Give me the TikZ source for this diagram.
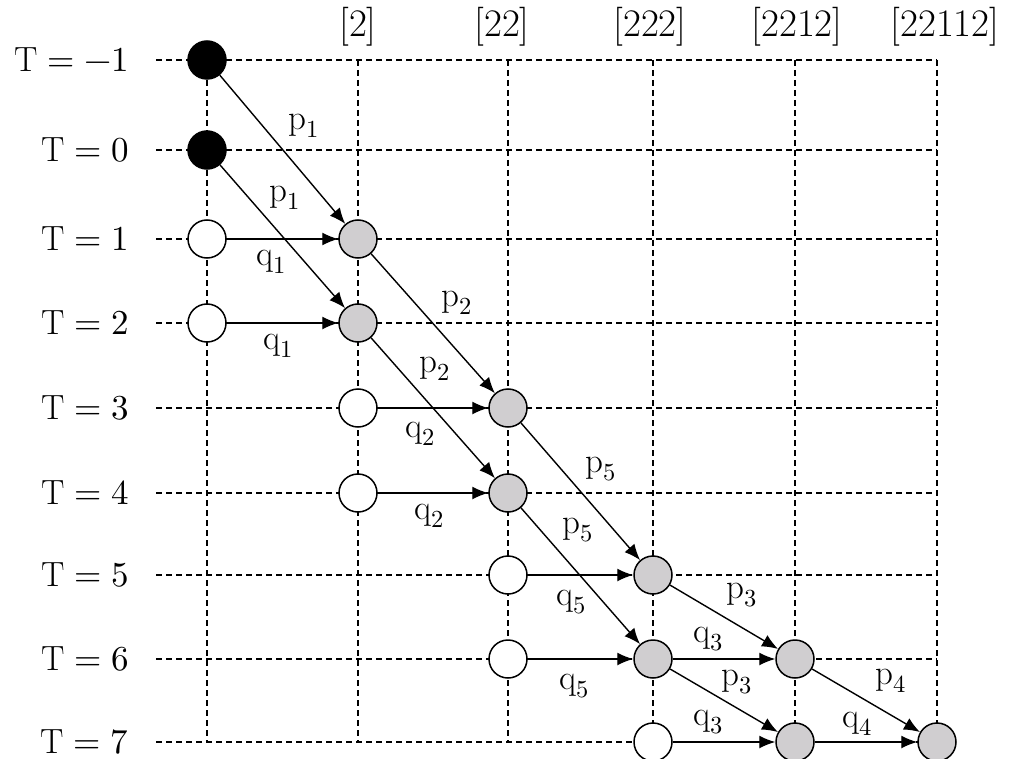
\documentclass[tikz,border=0pt]{standalone}
\usepackage{unicode-math}
\usetikzlibrary{arrows.meta}
\definecolor{nodegrey}{RGB}{208,206,208}
\begin{document}
\begin{tikzpicture}[x=1pt,y=-1pt,
  gridline/.style={line width=1.2pt, dash pattern=on 6pt off 4pt},
  st/.style={circle, draw, line width=1.5pt, minimum size=38pt, inner sep=0pt},
  blk/.style={st, fill=black},
  wht/.style={st, fill=white},
  gry/.style={st, fill=nodegrey},
  arr/.style={line width=1.4pt, -{Latex[length=16pt,width=13pt]}},
  lbl/.style={font=\fontsize{35}{40}\selectfont, inner sep=0pt},
  toplbl/.style={font=\fontsize{39}{44}\selectfont, inner sep=0pt},
]
\useasboundingbox (0,0) rectangle (1011,759);
% grid
\foreach \y in {60,150,239,323,408,493,575,659,742}
  \draw[gridline] (156,\y) -- (937,\y);
\foreach \x in {207,358,508,653,795,937}
  \draw[gridline] (\x,60) -- (\x,742);
% row labels
\node[lbl, anchor=east] (tm1) at (129,60) {$\mathrm{T} = -1$};
\node[lbl, anchor=east] (t0) at (129,150) {$\mathrm{T} = 0$};
\node[lbl, anchor=east] (t1) at (129,239) {$\mathrm{T} = 1$};
\node[lbl, anchor=east] (t2) at (129,323) {$\mathrm{T} = 2$};
\node[lbl, anchor=east] (t3) at (129,408) {$\mathrm{T} = 3$};
\node[lbl, anchor=east] (t4) at (129,493) {$\mathrm{T} = 4$};
\node[lbl, anchor=east] (t5) at (129,575) {$\mathrm{T} = 5$};
\node[lbl, anchor=east] (t6) at (129,659) {$\mathrm{T} = 6$};
\node[lbl, anchor=east] (t7) at (129,742) {$\mathrm{T} = 7$};
% column labels
\node[toplbl] (c1) at (358,27) {[2]};
\node[toplbl] (c2) at (502,27) {[22]};
\node[toplbl] (c3) at (650,27) {[222]};
\node[toplbl] (c4) at (797,27) {[2212]};
\node[toplbl] (c5) at (945,27) {[22112]};
% nodes
\node[blk] (b1) at (207,60) {};
\node[blk] (b2) at (207,150) {};
\node[wht] (w1) at (207,239) {};
\node[wht] (w2) at (207,323) {};
\node[wht] (w3) at (358,408) {};
\node[wht] (w4) at (358,493) {};
\node[wht] (w5) at (508,575) {};
\node[wht] (w6) at (508,659) {};
\node[wht] (w7) at (653,742) {};
\node[gry] (g1) at (358,239) {};
\node[gry] (g2) at (358,323) {};
\node[gry] (g3) at (508,408) {};
\node[gry] (g4) at (508,493) {};
\node[gry] (g5) at (653,575) {};
\node[gry] (g6) at (653,659) {};
\node[gry] (g7) at (795,659) {};
\node[gry] (g8) at (795,742) {};
\node[gry] (g9) at (937,742) {};
% arrows
\draw[arr] (b1) -- (g1);
\draw[arr] (b2) -- (g2);
\draw[arr] (w1) -- (g1);
\draw[arr] (w2) -- (g2);
\draw[arr] (g1) -- (g3);
\draw[arr] (g2) -- (g4);
\draw[arr] (w3) -- (g3);
\draw[arr] (w4) -- (g4);
\draw[arr] (g3) -- (g5);
\draw[arr] (g4) -- (g6);
\draw[arr] (w5) -- (g5);
\draw[arr] (w6) -- (g6);
\draw[arr] (g5) -- (g7);
\draw[arr] (g6) -- (g7);
\draw[arr] (g6) -- (g8);
\draw[arr] (w7) -- (g8);
\draw[arr] (g7) -- (g9);
\draw[arr] (g8) -- (g9);
% edge labels
\node[lbl] (l1) at (304,126) {$\mathrm{p}_{1}$};
\node[lbl] (l2) at (285,198) {$\mathrm{p}_{1}$};
\node[lbl] (l3) at (271,262) {$\mathrm{q}_{1}$};
\node[lbl] (l4) at (278,346) {$\mathrm{q}_{1}$};
\node[lbl] (l5) at (457,303) {$\mathrm{p}_{2}$};
\node[lbl] (l6) at (435,369) {$\mathrm{p}_{2}$};
\node[lbl] (l7) at (420,434) {$\mathrm{q}_{2}$};
\node[lbl] (l8) at (429,516) {$\mathrm{q}_{2}$};
\node[lbl] (l9) at (601,469) {$\mathrm{p}_{5}$};
\node[lbl] (l10) at (578,530) {$\mathrm{p}_{5}$};
\node[lbl] (l11) at (571,602) {$\mathrm{q}_{5}$};
\node[lbl] (l12) at (574,686) {$\mathrm{q}_{5}$};
\node[lbl] (l13) at (742,595) {$\mathrm{p}_{3}$};
\node[lbl] (l14) at (708,639) {$\mathrm{q}_{3}$};
\node[lbl] (l15) at (737,682) {$\mathrm{p}_{3}$};
\node[lbl] (l16) at (708,722) {$\mathrm{q}_{3}$};
\node[lbl] (l17) at (891,681) {$\mathrm{p}_{4}$};
\node[lbl] (l18) at (857,724) {$\mathrm{q}_{4}$};
\end{tikzpicture}
\end{document}
